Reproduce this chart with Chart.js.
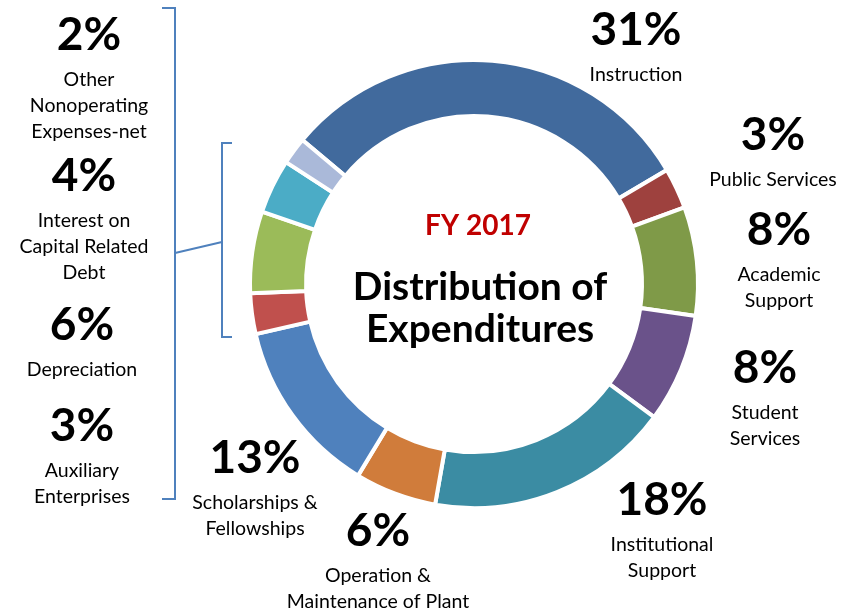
<!DOCTYPE html>
<html>
<head>
<meta charset="utf-8">
<title>Distribution of Expenditures FY 2017</title>
<script src="https://cdn.jsdelivr.net/npm/chart.js@4.4.1/dist/chart.umd.min.js"></script>
<style>
  html, body { margin: 0; padding: 0; background: #ffffff; }
  #wrap { position: relative; width: 857px; height: 611px; }
</style>
</head>
<body>
<div id="wrap"><canvas id="expenditures-chart"></canvas></div>
<script>
// expense categories, clockwise from the top-left
const categories = [
  'Instruction', 'Public Services', 'Academic Support', 'Student Services',
  'Institutional Support', 'Operation & Maintenance of Plant', 'Scholarships & Fellowships',
  'Auxiliary Enterprises', 'Depreciation', 'Interest on Capital Related Debt',
  'Other Nonoperating Expenses-net'
];
const shares = [31, 3, 8, 8, 18, 6, 13, 3, 6, 4, 2];

// how each category name is broken under its percentage
const labelLines = [
  ['Instruction'],
  ['Public Services'],
  ['Academic', 'Support'],
  ['Student', 'Services'],
  ['Institutional', 'Support'],
  ['Operation &', 'Maintenance of Plant'],
  ['Scholarships &', 'Fellowships'],
  ['Auxiliary', 'Enterprises'],
  ['Depreciation'],
  ['Interest on', 'Capital Related', 'Debt'],
  ['Other', 'Nonoperating', 'Expenses-net']
];

const sliceColors = [
  '#416a9d', '#9e413e', '#7f9a48', '#6a528a', '#3b8ca3', '#d07c3b',
  '#4f81bd', '#c0504d', '#9bbb59', '#4bacc6', '#aab9d9'
];

// label anchor: centre x, baseline of the percentage
const labelSpots = [
  [636, 45], [773, 150], [779, 245], [765, 383], [662, 515], [378, 546],
  [255, 473], [82, 441], [82, 340], [84, 191], [89, 50]
];

const FONT = 'Lato, "Open Sans", sans-serif';
const BRACKET = '#4f81bd';

const calloutPlugin = {
  id: 'callouts',
  afterDraw(chart) {
    const ctx = chart.ctx;
    ctx.save();
    ctx.textAlign = 'center';
    ctx.textBaseline = 'alphabetic';

    shares.forEach((value, i) => {
      const [x, y] = labelSpots[i];
      ctx.fillStyle = '#000000';
      ctx.font = `bold 46px ${FONT}`;
      ctx.fillText(`${value}%`, x, y);
      ctx.font = `19.5px ${FONT}`;
      labelLines[i].forEach((line, k) => {
        ctx.fillText(line, x, y + 36 + k * 26);
      });
    });

    // title in the hole
    ctx.fillStyle = '#c00000';
    ctx.font = `bold 28px ${FONT}`;
    ctx.fillText('FY 2017', 478, 235);
    ctx.fillStyle = '#000000';
    ctx.font = `bold 39px ${FONT}`;
    ctx.fillText('Distribution of', 480, 300);
    ctx.fillText('Expenditures', 480, 342);

    // brackets grouping the nonoperating items
    ctx.strokeStyle = BRACKET;
    ctx.lineWidth = 2;
    ctx.lineJoin = 'miter';
    ctx.beginPath();
    ctx.moveTo(162, 8);
    ctx.lineTo(175, 8);
    ctx.lineTo(175, 499);
    ctx.lineTo(162, 499);
    ctx.stroke();

    ctx.beginPath();
    ctx.moveTo(232, 143);
    ctx.lineTo(222, 143);
    ctx.lineTo(222, 337);
    ctx.lineTo(232, 337);
    ctx.stroke();

    ctx.beginPath();
    ctx.moveTo(175, 253);
    ctx.lineTo(222, 242);
    ctx.stroke();

    ctx.restore();
  }
};

new Chart(document.getElementById('expenditures-chart'), {
  type: 'doughnut',
  data: {
    labels: categories,
    datasets: [{
      data: shares,
      backgroundColor: sliceColors,
      borderColor: '#ffffff',
      borderWidth: 4
    }]
  },
  options: {
    responsive: true,
    maintainAspectRatio: false,
    animation: false,
    rotation: -50,
    cutout: '75%',
    layout: { padding: { top: 58, bottom: 101, left: 248, right: 157 } },
    plugins: {
      legend: { display: false },
      tooltip: { enabled: false }
    }
  },
  plugins: [calloutPlugin]
});
</script>
</body>
</html>
